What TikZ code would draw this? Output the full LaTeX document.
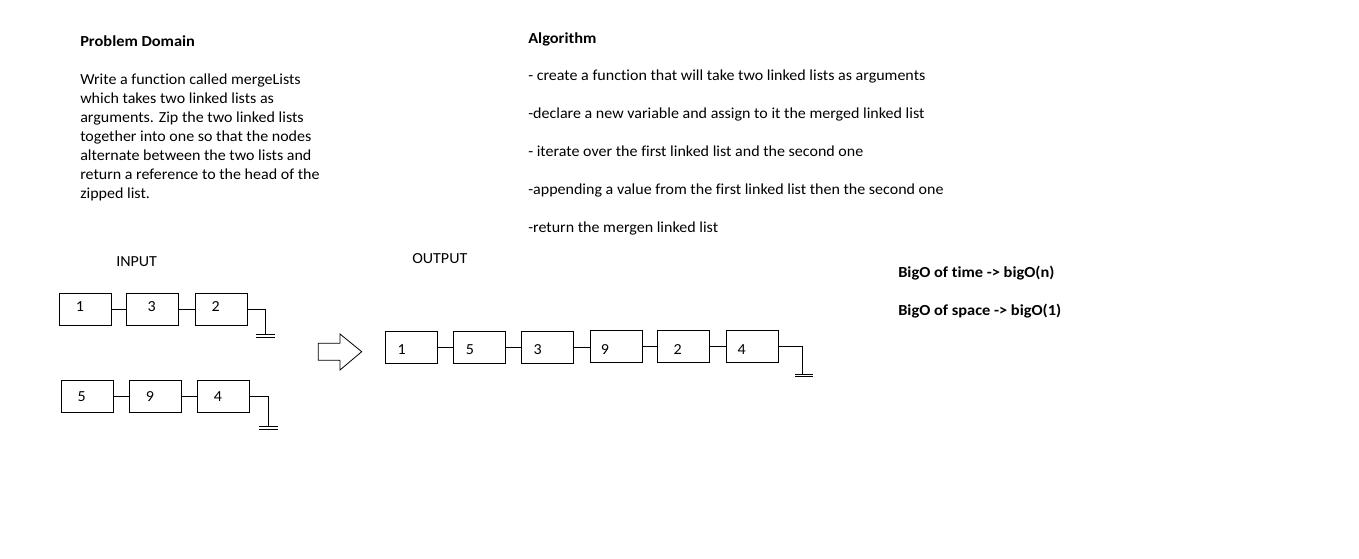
\documentclass[tikz,border=0pt]{standalone}
\usepackage{fontspec}
\setmainfont[Ligatures=NoCommon,FakeStretch=1.045,BoldFeatures={FakeStretch=1.07}]{Carlito}
\begin{document}
\begin{tikzpicture}[x=0.75pt,y=-0.75pt,
  every node/.style={font=\fontsize{11.5}{13}\selectfont},
  txt/.style={anchor=base west,inner sep=0pt},
  bld/.style={txt,font=\fontsize{11.5}{13}\selectfont\bfseries},
  lbox/.style={draw,line width=0.75pt,minimum width=39pt,minimum height=24pt,inner sep=0pt},
  num/.style={inner sep=0pt},
  wire/.style={line width=0.75pt}]
\useasboundingbox[fill=white] (0,0) rectangle (1359,559);
% Problem domain
\node[bld] (pd) at (80,46.7) {Problem Domain};
\node[txt] (p1) at (80,85) {Write a function called mergeLists};
\node[txt] (p2) at (80,104) {which takes two linked lists as};
\node[txt] (p3) at (80,123) {arguments. Zip the two linked lists};
\node[txt] (p4) at (80,142) {together into one so that the nodes};
\node[txt] (p5) at (80,161) {alternate between the two lists and};
\node[txt] (p6) at (80,180) {return a reference to the head of the};
\node[txt] (p7) at (80,199) {zipped list.};
% Algorithm
\node[bld] (al) at (528,43.3) {Algorithm};
\node[txt] (a1) at (528,81) {- create a function that will take two linked lists as arguments};
\node[txt] (a2) at (528,119) {-declare a new variable and assign to it the merged linked list};
\node[txt] (a3) at (528,157) {- iterate over the first linked list and the second one};
\node[txt] (a4) at (528,195) {-appending a value from the first linked list then the second one};
\node[txt] (a5) at (528,233) {-return the mergen linked list};
% BigO
\node[bld] (b1) at (898,277.5) {BigO of time -> bigO(n)};
\node[bld] (b2) at (898,315.8) {BigO of space -> bigO(1)};
% headings
\node[txt] (in) at (116,266.7) {INPUT};
\node[txt] (out) at (412,263.7) {OUTPUT};
% input list 1
\node[lbox] (i1) at (85,309.2) {};
\node[lbox] (i3) at (152.8,309.2) {};
\node[lbox] (i2) at (221.2,309.2) {};
\node[num] at (80,306.7) {1};
\node[num] at (151.7,306.7) {3};
\node[num] at (215.7,306.7) {2};
\draw[wire] (i1.east) -- (i3.west);
\draw[wire] (i3.east) -- (i2.west);
\coordinate (g1) at (265.7,335);
\draw[wire] (i2.east) -| (g1);
\draw[wire] (256,335) -- (275,335) (256,337.5) -- (275,337.5);
% input list 2
\node[lbox] (i5) at (87.8,396.2) {};
\node[lbox] (i9) at (155.8,396.2) {};
\node[lbox] (i4) at (223.8,396.2) {};
\node[num] at (81.7,396.7) {5};
\node[num] at (150,396.7) {9};
\node[num] at (218,396.7) {4};
\draw[wire] (i5.east) -- (i9.west);
\draw[wire] (i9.east) -- (i4.west);
\coordinate (g2) at (268.3,426.7);
\draw[wire] (i4.east) -| (g2);
\draw[wire] (259,426.7) -- (277.7,426.7) (259,429.2) -- (277.7,429.2);
% big arrow
\draw[line width=0.6pt,line join=miter] (318.3,343.3) -- (340,343.3) -- (340,334) -- (361.7,351.7) -- (340,370) -- (340,360.3) -- (318.3,360.3) -- cycle;
% output list
\node[lbox] (o1) at (411,347.5) {};
\node[lbox] (o5) at (479,347.5) {};
\node[lbox] (o3) at (547,347.5) {};
\node[lbox] (o9) at (616,346.5) {};
\node[lbox] (o2) at (683.8,346.5) {};
\node[lbox] (o4) at (752,346.2) {};
\node[num] at (401.7,349.3) {1};
\node[num] at (470,349.3) {5};
\node[num] at (537.7,349.3) {3};
\node[num] at (605,349.3) {9};
\node[num] at (677.7,349.3) {2};
\node[num] at (741.7,349.3) {4};
\draw[wire] (o1.east) -- (o1.east -| o5.west);
\draw[wire] (o5.east) -- (o5.east -| o3.west);
\draw[wire] (o3.east) -- (o3.east -| o9.west);
\draw[wire] (o9.east) -- (o9.east -| o2.west);
\draw[wire] (o2.east) -- (o2.east -| o4.west);
\coordinate (g3) at (802.7,374.3);
\draw[wire] (o4.east) -| (g3);
\draw[wire] (795,374.3) -- (812.7,374.3) (795,376.8) -- (812.7,376.8);
\end{tikzpicture}
\end{document}
